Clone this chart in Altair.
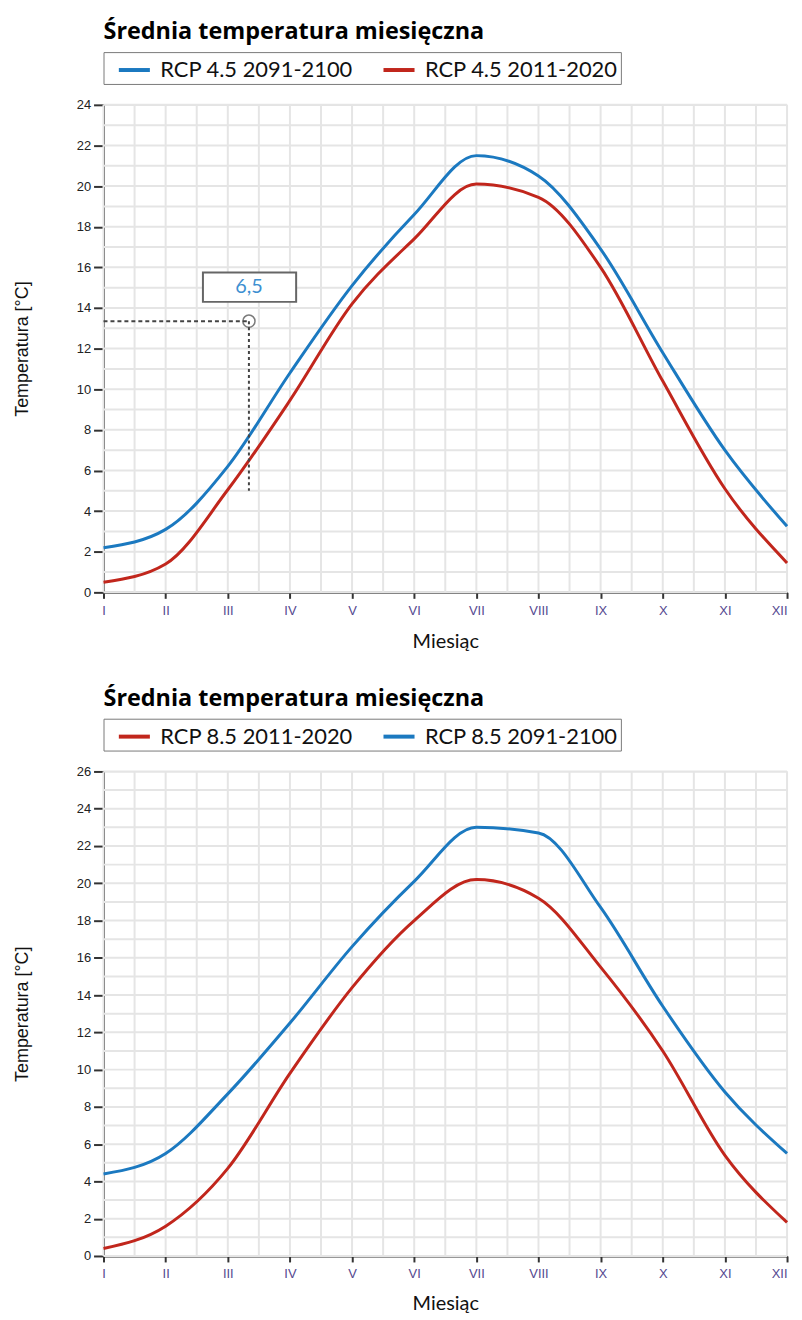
import altair as alt
import pandas as pd

# ---- data ----
months = ["I", "II", "III", "IV", "V", "VI", "VII", "VIII", "IX", "X", "XI", "XII"]
month_num = [1, 2, 3, 4, 5, 6, 7, 8, 9, 10, 11, 12]

series_45_future = "RCP 4.5 2091-2100"
series_45_now = "RCP 4.5 2011-2020"
series_85_now = "RCP 8.5 2011-2020"
series_85_future = "RCP 8.5 2091-2100"

rcp45_2091 = [2.2, 3.1, 6.2, 10.8, 15.1, 18.6, 21.5, 20.5, 16.9, 11.8, 7.0, 3.25]
rcp45_2011 = [0.5, 1.4, 5.05, 9.45, 14.2, 17.4, 20.1, 19.45, 16.0, 10.4, 5.1, 1.45]
rcp85_2011 = [0.4, 1.6, 4.7, 9.8, 14.4, 18.0, 20.2, 19.2, 15.5, 11.0, 5.4, 1.8]
rcp85_2091 = [4.4, 5.5, 8.7, 12.5, 16.6, 20.1, 23.0, 22.7, 18.7, 13.4, 8.8, 5.5]

# grid positions (minor grid every half month / every 1 degree)
x_grid = [1 + 0.5 * i for i in range(23)]
y_grid_top = list(range(0, 25))
y_grid_bottom = list(range(0, 27))
y_ticks_top = list(range(0, 25, 2))
y_ticks_bottom = list(range(0, 27, 2))

# hover annotation in the first panel
ann_x = [3.34]
ann_y = [13.35]
ann_y_low = [5.0]
ann_x_start = [1.0]
ann_label = ["6,5"]
ann_box_x = [2.6]
ann_box_x2 = [4.1]
ann_box_y = [14.3]
ann_box_y2 = [15.75]
ann_label_y = [15.02]

BLUE = "#1b79c0"
RED = "#c1261c"
GRID = "#e5e5e5"
TITLE = "Średnia temperatura miesięczna"

label_expr = "[" + ",".join(f"'{m}'" for m in months) + "][round(datum.value) - 1]"


def encs(ymax, yticks, xtitle_pad):
    x_enc = alt.X(
        "x:Q",
        scale=alt.Scale(domain=[1, 12], nice=False, zero=False),
        axis=alt.Axis(
            values=month_num, labelExpr=label_expr, grid=False, title="Miesiąc",
            titleFont="Lato", titleFontSize=20, titleFontWeight="normal", titleColor="#111",
            titlePadding=xtitle_pad, labelFont="Liberation Sans", labelFontSize=13,
            labelColor="#54488f", labelPadding=6, tickSize=6, tickColor="#333",
            domainColor="#333", domainWidth=2, tickWidth=2, labelFlush=False,
            labelAlign=alt.condition("datum.value == 12", alt.value("right"),
                                     alt.value("center")),
        ),
    )
    y_enc = alt.Y(
        "y:Q",
        scale=alt.Scale(domain=[0, ymax], nice=False),
        axis=alt.Axis(
            values=yticks, grid=False, title="Temperatura [°C]",
            titleFont="Liberation Sans", titleFontSize=18, titleFontWeight="normal",
            titleColor="#111", titlePadding=45, labelFont="Liberation Sans",
            labelFontSize=13, labelColor="#222", labelPadding=3, tickSize=10,
            tickColor="#333", tickWidth=2, domainColor="#333", domainWidth=2,
        ),
    )
    return x_enc, y_enc


def panel(series_names, series_values, colors, ymax, yticks, ygrid, height,
          xtitle_pad, annotate=False):
    x_enc, y_enc = encs(ymax, yticks, xtitle_pad)
    rows = []
    for name, vals in zip(series_names, series_values):
        for m, v in zip(month_num, vals):
            rows.append({"x": m, "y": v, "series": name})
    df = pd.DataFrame(rows)

    vgrid = alt.Chart(pd.DataFrame({"x": x_grid})).mark_rule(
        color=GRID, strokeWidth=2).encode(x=x_enc)
    hgrid = alt.Chart(pd.DataFrame({"y": ygrid})).mark_rule(
        color=GRID, strokeWidth=2).encode(y=y_enc)
    lines = alt.Chart(df).mark_line(interpolate="monotone", strokeWidth=3).encode(
        x=x_enc, y=y_enc,
        color=alt.Color(
            "series:N",
            scale=alt.Scale(domain=series_names, range=colors),
            sort=series_names,
            legend=alt.Legend(
                orient="top", title=None, direction="horizontal",
                strokeColor="#7a7a7a", fillColor="white",
                padding=3, offset=21, labelFont="Lato", labelFontSize=22,
                labelColor="#111", symbolType="M-1.2,0L1.2,0", symbolStrokeWidth=4,
                symbolSize=676, symbolOffset=13, columnPadding=18, labelOffset=11,
                labelLimit=0,
            ),
        ),
    )
    layers = [vgrid, hgrid, lines]
    if annotate:
        ann = pd.DataFrame({
            "x": ann_x, "y": ann_y, "ylow": ann_y_low, "xstart": ann_x_start,
            "label": ann_label, "bx": ann_box_x, "bx2": ann_box_x2,
            "by": ann_box_y, "by2": ann_box_y2, "ly": ann_label_y,
        })
        base = alt.Chart(ann)
        hline = base.mark_rule(color="#444", strokeWidth=2, strokeDash=[4, 3]).encode(
            x=alt.X("xstart:Q"), x2="x:Q", y=alt.Y("y:Q"))
        vline = base.mark_rule(color="#444", strokeWidth=2, strokeDash=[3, 3]).encode(
            x=alt.X("x:Q"), y=alt.Y("y:Q"), y2="ylow:Q")
        circ = base.mark_point(shape="circle", size=150, filled=False, color="#444",
                               strokeWidth=1.5).encode(
            x=alt.X("x:Q"), y=alt.Y("y:Q"))
        box = base.mark_rect(fill="white", stroke="#666", strokeWidth=2).encode(
            x=alt.X("bx:Q"), x2="bx2:Q", y=alt.Y("by:Q"), y2="by2:Q")
        txt = base.mark_text(font="Lato", fontSize=20, color="#3d8fd1",
                             baseline="middle", align="center").encode(
            x=alt.X("x:Q"), y=alt.Y("ly:Q"), text="label:N")
        layers += [hline, vline, circ, box, txt]

    return alt.layer(*layers).properties(
        width=687, height=height,
        title=alt.TitleParams(TITLE, anchor="start", frame="group", font="Open Sans",
                              fontSize=23.5, fontWeight="bold", color="#000", offset=8),
    )


top = panel([series_45_future, series_45_now], [rcp45_2091, rcp45_2011],
            [BLUE, RED], 24, y_ticks_top, y_grid_top, 490, 14, annotate=True)
bottom = panel([series_85_now, series_85_future], [rcp85_2011, rcp85_2091],
               [RED, BLUE], 26, y_ticks_bottom, y_grid_bottom, 487, 13)

chart = alt.vconcat(top, bottom, spacing=34).resolve_scale(
    color="independent", x="independent", y="independent"
).properties(
    padding={"left": 5, "top": 8, "right": 0, "bottom": 0}
).configure_view(stroke=None).configure(background="white")

chart.save("out.html", embed_options={"renderer": "svg", "actions": False})
